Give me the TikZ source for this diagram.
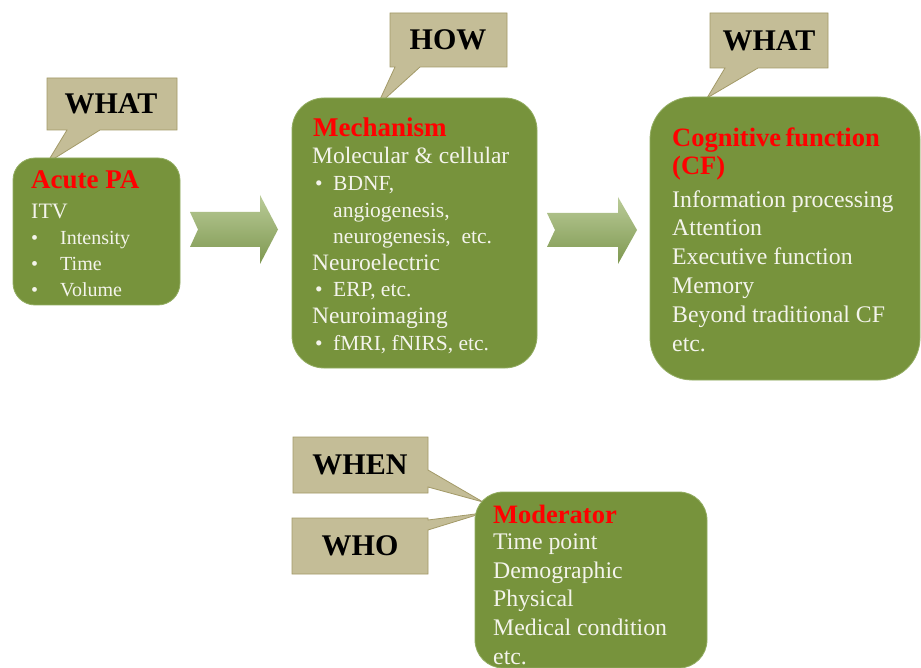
\documentclass[tikz,border=0pt]{standalone}
\usepackage{fontspec}
\setmainfont{Liberation Serif}
\definecolor{boxgreen}{HTML}{77933C}
\definecolor{boxedge}{HTML}{93AD62}
\definecolor{calfill}{HTML}{C4BD97}
\definecolor{caledge}{HTML}{A39A68}
\definecolor{txt}{HTML}{F4F4EC}
\definecolor{arrtop}{HTML}{BACB98}
\definecolor{arrbot}{HTML}{7E9850}
\tikzset{
  gbox/.style={draw=boxedge, line width=0.8pt, fill=boxgreen, inner sep=0pt},
  callout/.style={draw=caledge, line width=0.8pt, fill=calfill},
  clabel/.style={font=\bfseries\fontsize{30}{36}\selectfont, text=black, inner sep=0pt},
  ttl/.style={font=\bfseries\fontsize{27}{30}\selectfont, text=red, anchor=base west, inner sep=0pt, align=left},
  body/.style={text=txt, anchor=base west, inner sep=0pt, align=left},
  blockarrow/.style={top color=arrtop, bottom color=arrbot, draw=none}
}
\newcommand{\bul}[1]{\makebox[#1][l]{\textbullet}}
\begin{document}
\begin{tikzpicture}[x=1pt,y=-1pt]
\useasboundingbox[fill=white] (0,0) rectangle (921,668);

% callouts
\coordinate (t1) at (47,163);
\coordinate (t2) at (377,106);
\coordinate (t3) at (707,98);
\coordinate (t4) at (483,502);
\coordinate (t5) at (483,513);
\path[callout] (47,78) -- (177,78) -- (177,130) -- (100,130) -- (t1) -- (67,130) -- (47,130) -- cycle;
\path[callout] (390,13) -- (507,13) -- (507,67) -- (420,67) -- (t2) -- (395,67) -- (390,67) -- cycle;
\path[callout] (710,13) -- (828,13) -- (828,68) -- (758,68) -- (t3) -- (725,68) -- (710,68) -- cycle;
\path[callout] (293,437) -- (428,437) -- (428,470) -- (t4) -- (428,487) -- (428,493) -- (293,493) -- cycle;
\path[callout] (292,518) -- (428,518) -- (428,520) -- (t5) -- (428,530) -- (428,574) -- (292,574) -- cycle;
\node[clabel] (lwhat) at (111,104) {WHAT};
\node[clabel] (lhow) at (448,40) {HOW};
\node[clabel] (rwhat) at (769,41) {WHAT};
\node[clabel] (lwhen) at (360,465) {WHEN};
\node[clabel] (lwho) at (360,546) {WHO};

% boxes
\node[gbox, minimum width=167pt, minimum height=147pt, rounded corners=22pt] (apa) at (96.5,231.5) {};
\node[gbox, minimum width=245pt, minimum height=270pt, rounded corners=32pt] (mech) at (414.5,233) {};
\node[gbox, minimum width=270pt, minimum height=283pt, rounded corners=42pt] (cf) at (785,238.5) {};
\node[gbox, minimum width=232pt, minimum height=176pt, rounded corners=28pt] (mod) at (591,580) {};

% block arrows
\shade[blockarrow] (190,212) -- (260,212) -- (260,195) -- (278,229.5) -- (260,264) -- (260,247) -- (190,247) -- (198,229.5) -- cycle;
\shade[blockarrow] (547,213) -- (618,213) -- (618,197) -- (637,230) -- (618,264) -- (618,247) -- (547,247) -- (555,230) -- cycle;

% texts (base anchor = baseline of the last line)
\node[ttl] (apat) at (31,189) {Acute PA};
\node[body, font=\fontsize{20}{26.3}\selectfont] (apab) at (31,297) {{\fontsize{22}{26.3}\selectfont ITV}\\
\bul{29pt}Intensity\\
\bul{29pt}Time\\
\bul{29pt}Volume};

\node[ttl] (mecht) at (313,137) {Mechanism};
\node[body, font=\fontsize{23.5}{26.6}\selectfont] (mechb) at (312,350) {Molecular \& cellular\\
{\fontsize{21.5}{26.6}\selectfont\hspace*{3pt}\bul{18pt}BDNF,}\\
{\fontsize{21.5}{26.6}\selectfont\hspace*{21pt}angiogenesis,}\\
{\fontsize{21.5}{26.6}\selectfont\hspace*{21pt}neurogenesis,\ \ etc.}\\
Neuroelectric\\
{\fontsize{21.5}{26.6}\selectfont\hspace*{3pt}\bul{18pt}ERP, etc.}\\
Neuroimaging\\
{\fontsize{21.5}{26.6}\selectfont\hspace*{3pt}\bul{18pt}fMRI,\ fNIRS,\ etc.}};

\node[ttl, font=\bfseries\fontsize{26.5}{28}\selectfont] (cft) at (672,175) {Cognitive\,function\\(CF)};
\node[body, font=\fontsize{23.8}{28.8}\selectfont] (cfb) at (672,351) {Information processing\\
Attention\\
Executive function\\
Memory\\
Beyond traditional CF\\
etc.};

\node[ttl, font=\bfseries\fontsize{26.5}{28}\selectfont] (modt) at (493,523) {Moderator};
\node[body, font=\fontsize{23.8}{28.6}\selectfont] (modb) at (493,664) {Time point\\
Demographic\\
Physical\\
Medical condition\\
etc.};
\end{tikzpicture}
\end{document}
